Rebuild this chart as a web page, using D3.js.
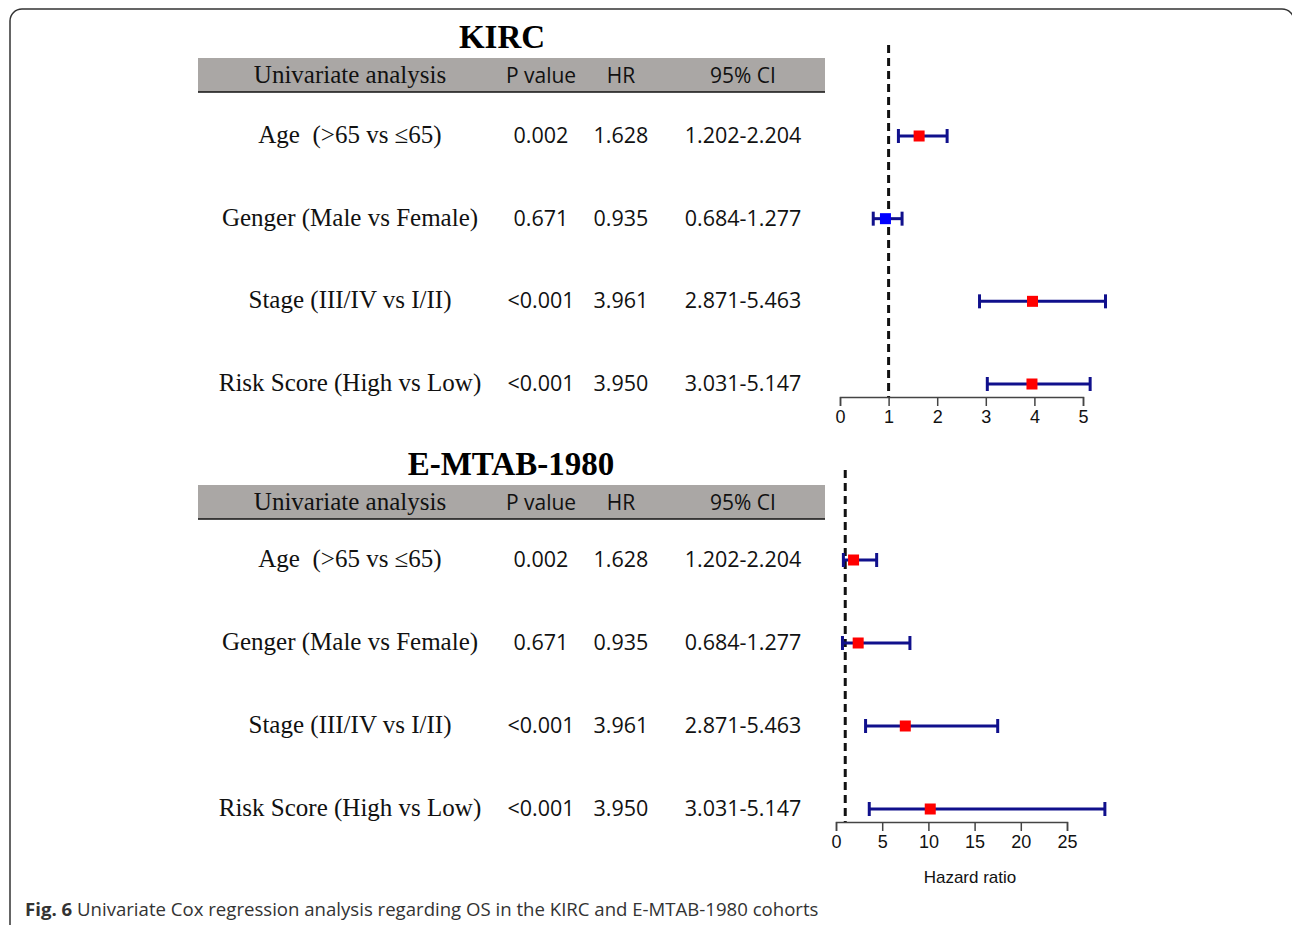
<!DOCTYPE html>
<html>
<head>
<meta charset="utf-8">
<script src="https://cdn.jsdelivr.net/npm/d3@7"></script>
<style>
  body { margin: 0; background: #fff; }
</style>
</head>
<body>
<div id="chart"></div>
<script>
// Table contents (same text in both cohorts, as in the figure)
var labels = ["Age \u00a0(>65 vs \u226465)", "Genger (Male vs Female)", "Stage (III/IV vs I/II)", "Risk Score (High vs Low)"];
var pValues = ["0.002", "0.671", "<0.001", "<0.001"];
var hrText = ["1.628", "0.935", "3.961", "3.950"];
var ciText = ["1.202-2.204", "0.684-1.277", "2.871-5.463", "3.031-5.147"];
var headers = ["Univariate analysis", "P value", "HR", "95% CI"];

// Forest plot values: KIRC
var kircHR = [1.628, 0.935, 3.961, 3.950];
var kircLow = [1.202, 0.684, 2.871, 3.031];
var kircHigh = [2.204, 1.277, 5.463, 5.147];
var kircTicks = [0, 1, 2, 3, 4, 5];

// Forest plot values: E-MTAB-1980
var emtabHR = [1.9, 2.4, 7.5, 10.2];
var emtabLow = [0.8, 0.7, 3.2, 3.6];
var emtabHigh = [4.4, 8.0, 17.5, 29.1];
var emtabTicks = [0, 5, 10, 15, 20, 25];

var W = 1292, H = 925;
var svg = d3.select("#chart").append("svg").attr("width", W).attr("height", H);

// frame
svg.append("rect")
  .attr("x", 10).attr("y", 9).attr("width", 1284).attr("height", 940)
  .attr("rx", 12).attr("fill", "none").attr("stroke", "#333").attr("stroke-width", 1.5);

var serif = "'Liberation Serif', 'Times New Roman', serif";
var sans = "'Open Sans', 'Noto Sans', sans-serif";
var colX = [350, 541, 621, 743];

function drawPanel(cfg) {
  var g = svg.append("g");

  // title
  g.append("text")
    .attr("x", cfg.titleX).attr("y", cfg.top - 10)
    .attr("text-anchor", "middle")
    .attr("font-family", serif).attr("font-weight", "bold").attr("font-size", 33)
    .text(cfg.title);

  // header band
  g.append("rect")
    .attr("x", 198).attr("y", cfg.top).attr("width", 627).attr("height", 34)
    .attr("fill", "#aaa7a5");
  g.append("line")
    .attr("x1", 198).attr("x2", 825).attr("y1", cfg.top + 34).attr("y2", cfg.top + 34)
    .attr("stroke", "#111").attr("stroke-width", 1.5);

  g.selectAll("text.head")
    .data(headers)
    .enter().append("text")
    .attr("class", "head")
    .attr("x", (d, i) => colX[i])
    .attr("y", cfg.top + 25)
    .attr("text-anchor", "middle")
    .attr("font-family", (d, i) => i === 0 ? serif : sans)
    .attr("font-size", (d, i) => i === 0 ? 25 : 21)
    .attr("fill", "#111")
    .text(d => d);

  var y = d3.scalePoint().domain(d3.range(labels.length)).range(cfg.rows);

  var cols = [labels, pValues, hrText, ciText];
  cols.forEach(function (arr, c) {
    g.selectAll("text.c" + c)
      .data(arr)
      .enter().append("text")
      .attr("class", "c" + c)
      .attr("x", colX[c])
      .attr("y", (d, i) => y(i) + 7)
      .attr("text-anchor", "middle")
      .attr("font-family", c === 0 ? serif : sans)
      .attr("font-size", c === 0 ? 25 : 21.5)
      .attr("fill", "#111")
      .text(d => d);
  });

  // forest plot
  var x = d3.scaleLinear().domain(cfg.domain).range(cfg.range);

  g.append("line")
    .attr("x1", x(1)).attr("x2", x(1))
    .attr("y1", cfg.dashTop).attr("y2", cfg.axisY)
    .attr("stroke", "#111").attr("stroke-width", 3)
    .attr("stroke-dasharray", "8,5");

  var axis = g.append("g")
    .attr("transform", "translate(0," + cfg.axisY + ")")
    .call(d3.axisBottom(x).tickValues(cfg.ticks).tickFormat(d3.format("d"))
      .tickSize(9).tickSizeOuter(9).tickPadding(4));
  axis.select(".domain").attr("stroke", "#444").attr("stroke-width", 1.5);
  axis.selectAll(".tick line").attr("stroke", "#444").attr("stroke-width", 1.5);
  axis.selectAll(".tick text")
    .attr("font-family", "'Liberation Sans', Arial, sans-serif")
    .attr("font-size", 18).attr("fill", "#111");

  var idx = d3.range(labels.length);
  var navy = "#10108c";

  g.selectAll("line.ci")
    .data(idx).enter().append("line")
    .attr("x1", i => x(cfg.low[i])).attr("x2", i => x(cfg.high[i]))
    .attr("y1", i => y(i)).attr("y2", i => y(i))
    .attr("stroke", navy).attr("stroke-width", 3);
  [cfg.low, cfg.high].forEach(function (arr) {
    g.selectAll(null)
      .data(idx).enter().append("line")
      .attr("x1", i => x(arr[i])).attr("x2", i => x(arr[i]))
      .attr("y1", i => y(i) - 7).attr("y2", i => y(i) + 7)
      .attr("stroke", navy).attr("stroke-width", 3);
  });
  g.selectAll("rect.pt")
    .data(idx).enter().append("rect")
    .attr("x", i => x(cfg.hr[i]) - 5.5)
    .attr("y", i => y(i) - 5.5)
    .attr("width", 11).attr("height", 11)
    .attr("fill", i => cfg.hr[i] < 1 ? "#0000ff" : "#ff0000");
}

drawPanel({
  title: "KIRC", titleX: 502, top: 58,
  rows: [136, 384],
  domain: [0, 5], range: [840, 1083], ticks: kircTicks,
  dashTop: 45, axisY: 397,
  hr: kircHR, low: kircLow, high: kircHigh
});

drawPanel({
  title: "E-MTAB-1980", titleX: 511, top: 485,
  rows: [560, 809],
  domain: [0, 25], range: [836, 1067], ticks: emtabTicks,
  dashTop: 470, axisY: 822,
  hr: emtabHR, low: emtabLow, high: emtabHigh
});

svg.append("text")
  .attr("x", 970).attr("y", 883)
  .attr("text-anchor", "middle")
  .attr("font-family", "'Liberation Sans', Arial, sans-serif")
  .attr("font-size", 17).attr("fill", "#111")
  .text("Hazard ratio");

// caption
var cap = svg.append("text")
  .attr("x", 25).attr("y", 916)
  .attr("font-family", sans).attr("font-size", 18.6).attr("fill", "#333");
cap.append("tspan").attr("font-weight", "bold").text("Fig. 6");
cap.append("tspan").text(" Univariate Cox regression analysis regarding OS in the KIRC and E-MTAB-1980 cohorts");
</script>
</body>
</html>
